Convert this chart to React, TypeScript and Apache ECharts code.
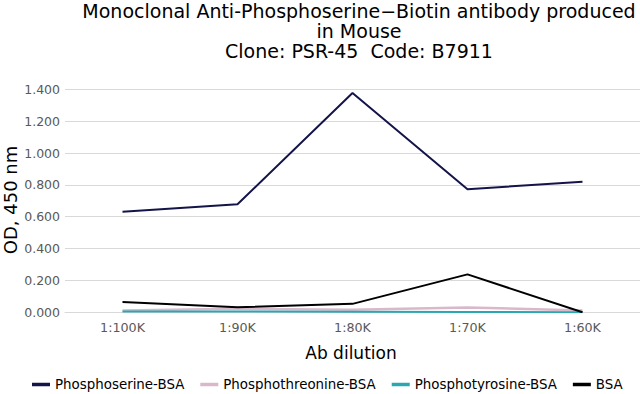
import React, { useEffect, useRef } from "react";
import * as echarts from "echarts";

const categories = ["1:100K", "1:90K", "1:80K", "1:70K", "1:60K"];
const phosphoserine = [0.632, 0.678, 1.377, 0.773, 0.82];
const phosphothreonine = [0.012, 0.022, 0.016, 0.03, 0.012];
const phosphotyrosine = [0.005, 0.005, 0.003, 0.002, 0.0];
const bsa = [0.065, 0.032, 0.053, 0.238, 0.0];
const titleLines = [
  "Monoclonal Anti-Phosphoserine\u2212Biotin antibody produced",
  "in Mouse",
  "Clone: PSR-45  Code: B7911",
];

export default function App() {
  const ref = useRef<HTMLDivElement>(null);
  useEffect(() => {
    document.body.style.margin = "0";
    if (!ref.current) return;
    const chart = echarts.init(ref.current, undefined, { renderer: "svg" });
    const font = "DejaVu Sans, Verdana, sans-serif";
    chart.setOption({
      animation: false,
      textStyle: { fontFamily: font },
      graphic: [
        ...titleLines.map((t, i) => ({
          type: "text",
          x: 359,
          y: 11 + i * 20,
          style: {
            text: t,
            font: `19px ${font}`,
            fill: "#000",
            textAlign: "center",
            textVerticalAlign: "middle",
          },
        })),
        {
          type: "text",
          x: 351,
          y: 353,
          style: {
            text: "Ab dilution",
            font: `17px ${font}`,
            fill: "#000",
            textAlign: "center",
            textVerticalAlign: "middle",
          },
        },
        {
          type: "text",
          x: 10,
          y: 200,
          rotation: Math.PI / 2,
          style: {
            text: "OD, 450 nm",
            font: `18px ${font}`,
            fill: "#000",
            textAlign: "center",
            textVerticalAlign: "middle",
          },
        },
      ],
      grid: { left: 65, right: 0, top: 89.3, bottom: 81.7, containLabel: false },
      legend: {
        left: 32,
        top: 378,
        padding: 0,
        itemGap: 16,
        itemWidth: 18,
        itemHeight: 3.5,
        icon: "rect",
        textStyle: { fontFamily: font, fontSize: 13.4, color: "#000" },
        data: ["Phosphoserine-BSA", "Phosphothreonine-BSA", "Phosphotyrosine-BSA", "BSA"],
      },
      xAxis: {
        type: "category",
        data: categories,
        boundaryGap: true,
        axisLine: { show: true, lineStyle: { color: "#d9d9d9", width: 1 } },
        axisTick: { show: false },
        axisLabel: { color: "#595959", fontSize: 12.7, margin: 9 },
      },
      yAxis: {
        type: "value",
        min: 0,
        max: 1.4,
        interval: 0.2,
        axisLine: { show: false },
        axisTick: { show: false },
        splitLine: { lineStyle: { color: "#d9d9d9", width: 1 } },
        axisLabel: {
          color: "#595959",
          fontSize: 12.5,
          margin: 5,
          formatter: (v: number) => v.toFixed(3),
        },
      },
      series: [
        {
          name: "Phosphoserine-BSA",
          type: "line",
          data: phosphoserine,
          symbol: "none",
          lineStyle: { color: "#14144a", width: 2 },
          itemStyle: { color: "#14144a" },
          z: 5,
        },
        {
          name: "Phosphothreonine-BSA",
          type: "line",
          data: phosphothreonine,
          symbol: "none",
          lineStyle: { color: "#d9b8cb", width: 2.5 },
          itemStyle: { color: "#d9b8cb" },
          z: 2,
        },
        {
          name: "Phosphotyrosine-BSA",
          type: "line",
          data: phosphotyrosine,
          symbol: "none",
          lineStyle: { color: "#2aa8b2", width: 2 },
          itemStyle: { color: "#2aa8b2" },
          z: 3,
        },
        {
          name: "BSA",
          type: "line",
          data: bsa,
          symbol: "none",
          lineStyle: { color: "#000000", width: 2 },
          itemStyle: { color: "#000000" },
          z: 4,
        },
      ],
    });
    return () => chart.dispose();
  }, []);
  return <div ref={ref} style={{ width: 640, height: 394 }} />;
}
